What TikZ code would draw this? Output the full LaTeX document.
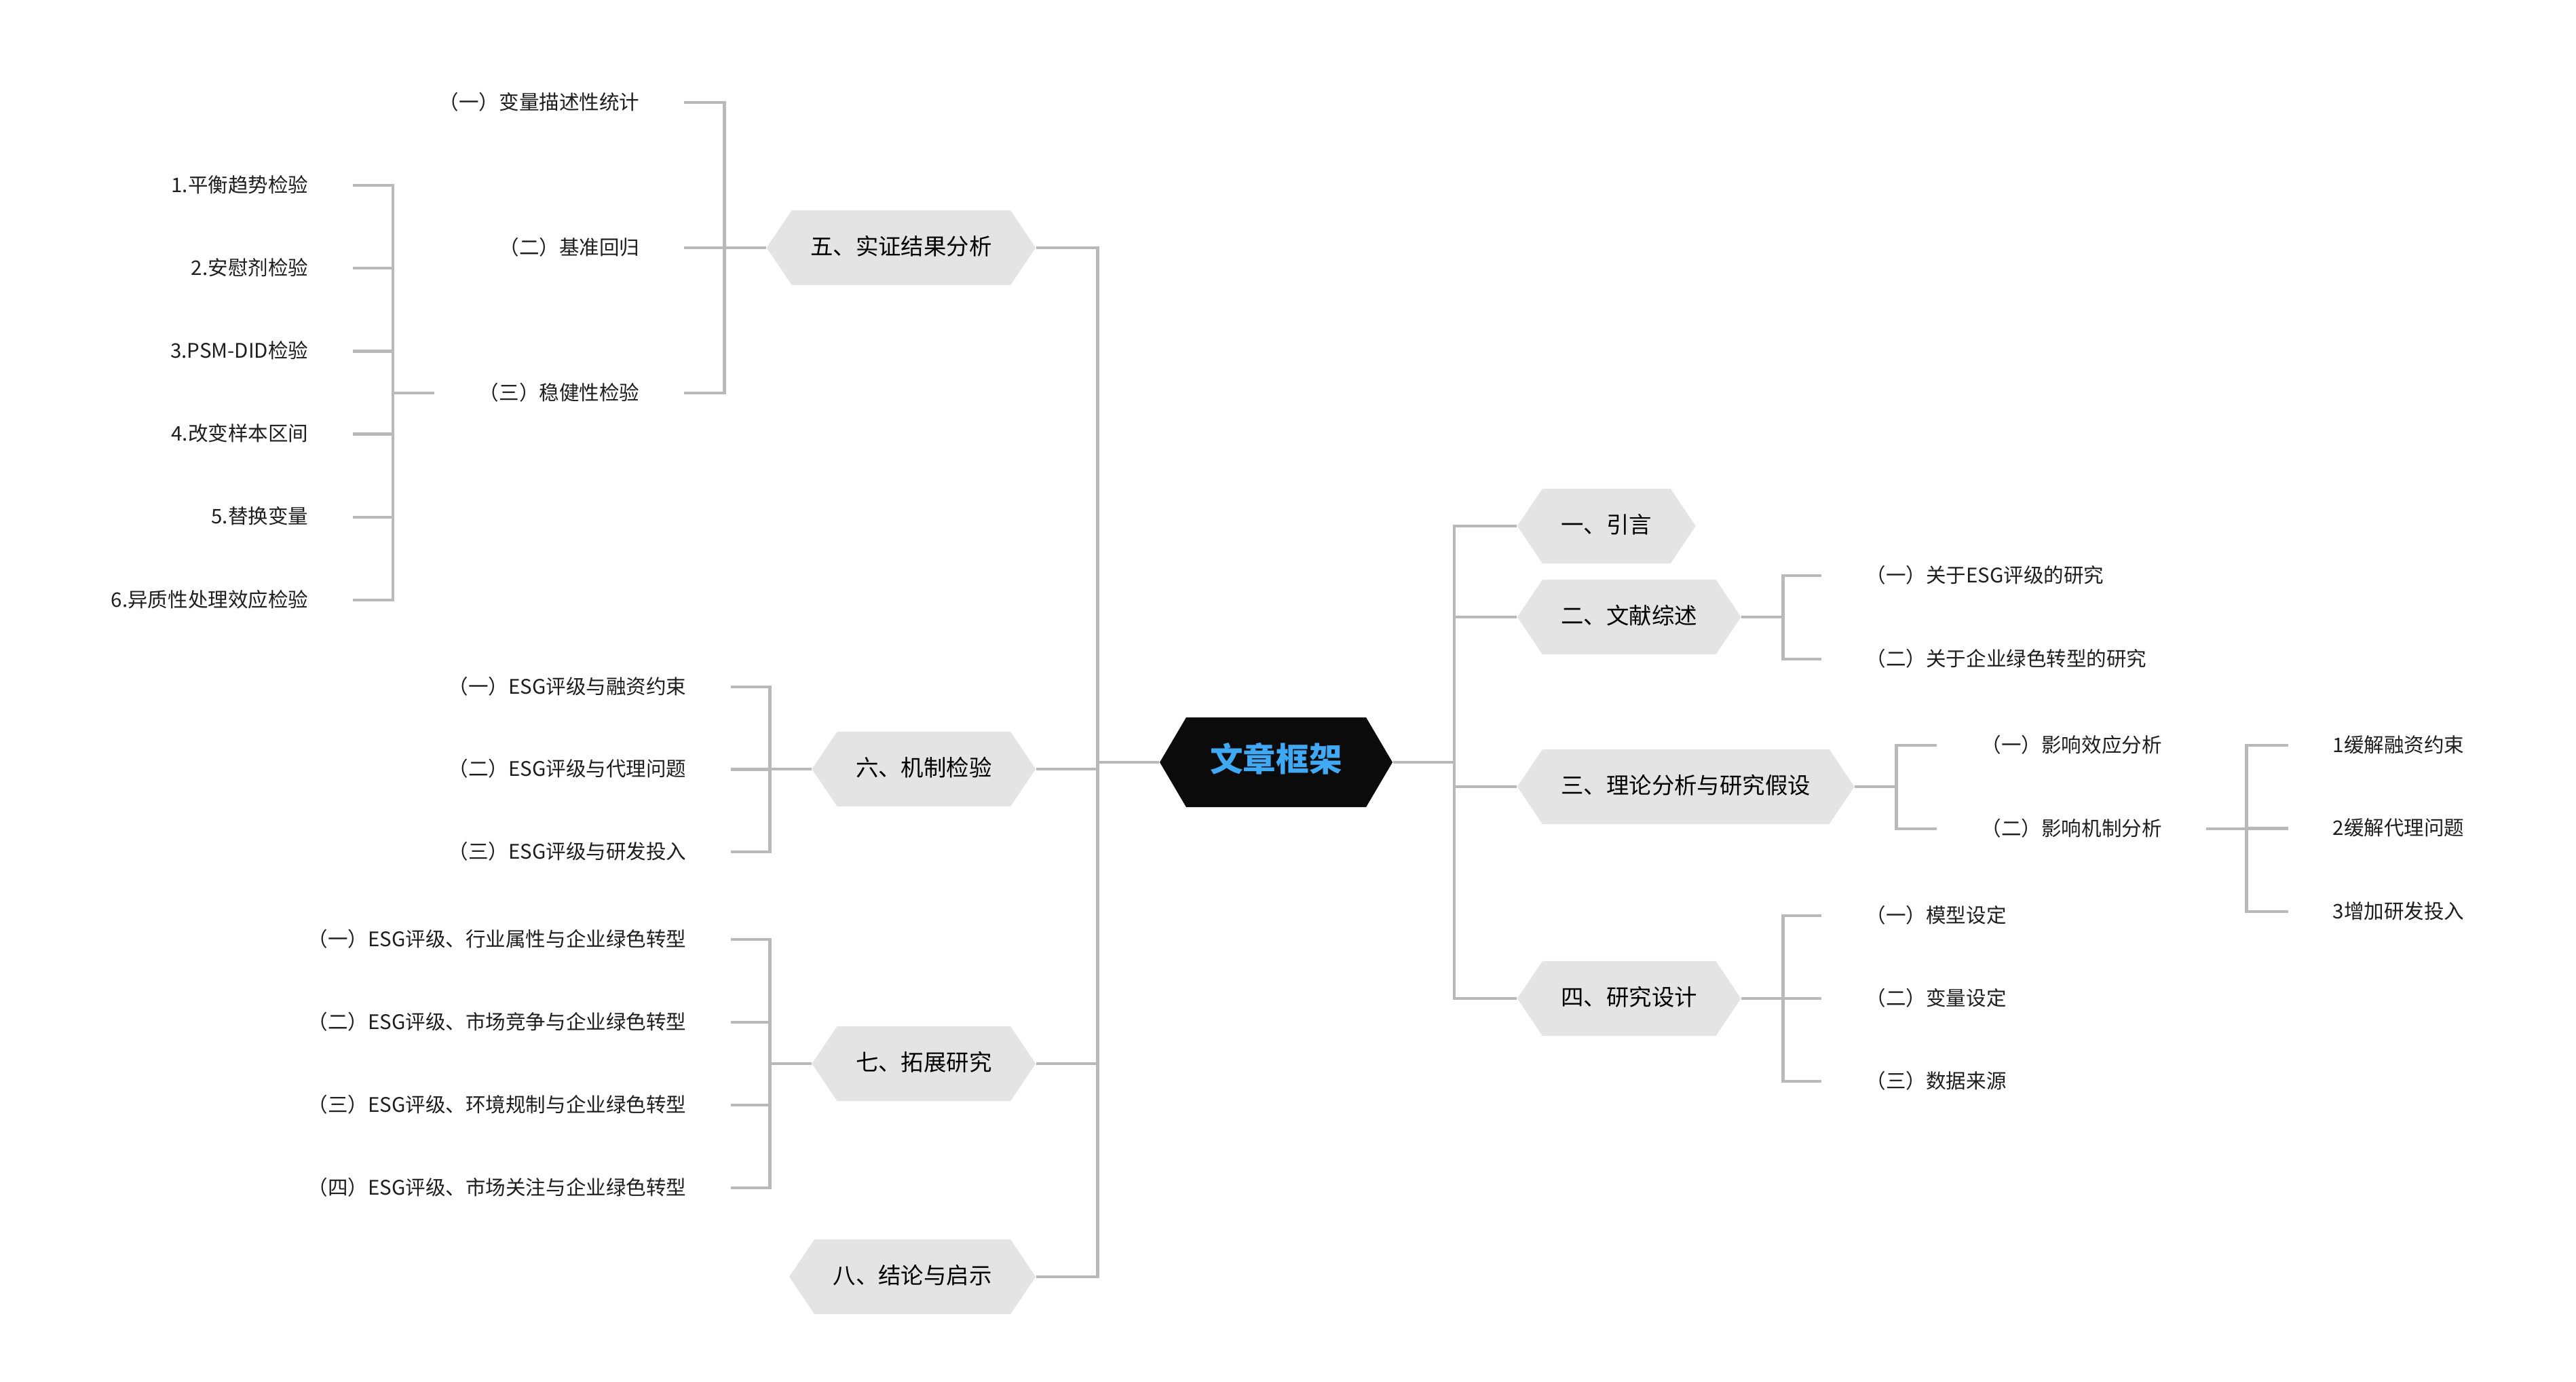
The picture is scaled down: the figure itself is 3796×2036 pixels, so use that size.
\documentclass[tikz,border=0pt]{standalone}
\usepackage{fontspec}
\setmainfont{Noto Sans CJK SC}
\usepackage{tikz}
\usetikzlibrary{shapes.symbols}
\definecolor{hexgray}{HTML}{E4E4E4}
\definecolor{lngray}{HTML}{B9B9B9}
\definecolor{rootblk}{HTML}{0B0B0B}
\definecolor{rootblue}{HTML}{3FA9F5}
\definecolor{leaftxt}{HTML}{1E1E1E}

\begin{document}
\begin{tikzpicture}[x=0.01cm,y=-0.01cm,
  hex/.style={signal,signal to=east and west,signal pointer angle=112,fill=hexgray,minimum height=1.1cm,inner xsep=0.275cm,inner ysep=0pt,font=\fontsize{9.5}{10}\selectfont,text=black,text height=0.8em,text depth=0.21em},
  root/.style={hex,signal pointer angle=119,fill=rootblk,minimum height=1.32cm,inner xsep=0.355cm,font=\fontsize{13.8}{15}\selectfont\bfseries,text=rootblue,text height=0.86em,text depth=0.12em},
  leaf/.style={inner xsep=0.65cm,inner ysep=0pt,font=\fontsize{8.4}{9}\selectfont,text=leaftxt,text height=0.8em,text depth=0.23em},
  conn/.style={draw=lngray,line width=1.3pt}]
  \fill[white] (0,0) rectangle (3796,2036); \useasboundingbox (0,0) rectangle (3796,2036);
  \node[root] (c) at (1880.5,1123) {文章框架};
  \node[hex,anchor=east] (h5) at (1527,365) {五、实证结果分析}; \node[hex,anchor=east] (h6) at (1527,1133) {六、机制检验};
  \node[hex,anchor=east] (h7) at (1527,1567) {七、拓展研究}; \node[hex,anchor=east] (h8) at (1527,1881) {八、结论与启示};
  \node[hex,anchor=west] (h1) at (2235,775) {一、引言}; \node[hex,anchor=west] (h2) at (2235,909) {二、文献综述};
  \node[hex,anchor=west] (h3) at (2235,1159) {三、理论分析与研究假设}; \node[hex,anchor=west] (h4) at (2235,1471) {四、研究设计};
  \foreach \h in {h5,h6,h7,h8} \draw[conn] (c.west) -- ++(-91,0) |- (\h.east);
  \foreach \h in {h1,h2,h3,h4} \draw[conn] (c.east) -- ++(90,0) |- (\h.west);

  \node[leaf,anchor=east] (a1) at (1008,151) {（一）变量描述性统计}; \node[leaf,anchor=east] (a2) at (1008,365) {（二）基准回归};
  \node[leaf,anchor=east] (a3) at (1008,579) {（三）稳健性检验};
  \foreach \n in {a1,a2,a3} \draw[conn] (h5.west) -- ++(-61,0) |- (\n.east);
  \foreach \t [count=\i] in {1.平衡趋势检验,2.安慰剂检验,3.PSM-DID检验,4.改变样本区间,5.替换变量,6.异质性处理效应检验}
    {\node[leaf,anchor=east] (r\i) at (520,{273+122.2*(\i-1)}) {\t}; \draw[conn] (a3.west) -- ++(-61,0) |- (r\i.east);}
  \foreach \t [count=\i] in {（一）ESG评级与融资约束,（二）ESG评级与代理问题,（三）ESG评级与研发投入}
    {\node[leaf,anchor=east] (m\i) at (1077,{1012+121.5*(\i-1)}) {\t}; \draw[conn] (h6.west) -- ++(-61,0) |- (m\i.east);}
  \foreach \t [count=\i] in {（一）ESG评级、行业属性与企业绿色转型,（二）ESG评级、市场竞争与企业绿色转型,（三）ESG评级、环境规制与企业绿色转型,（四）ESG评级、市场关注与企业绿色转型}
    {\node[leaf,anchor=east] (e\i) at (1077,{1384+122*(\i-1)}) {\t}; \draw[conn] (h7.west) -- ++(-61,0) |- (e\i.east);}

  \foreach \t [count=\i] in {（一）关于ESG评级的研究,（二）关于企业绿色转型的研究}
    {\node[leaf,anchor=west] (w\i) at (2684,{848+123*(\i-1)}) {\t}; \draw[conn] (h2.east) -- ++(61,0) |- (w\i.west);}
  \node[leaf,anchor=west] (t1) at (2854,1098) {（一）影响效应分析}; \node[leaf,anchor=west] (t2) at (2854,1221) {（二）影响机制分析};
  \foreach \n in {t1,t2} \draw[conn] (h3.east) -- ++(61,0) |- (\n.west);
  \foreach \t [count=\i] in {1缓解融资约束,2缓解代理问题,3增加研发投入}
    {\node[leaf,anchor=west] (k\i) at (3372,{1098+122.5*(\i-1)}) {\t}; \draw[conn] (t2.east) -- ++(59,0) |- (k\i.west);}
  \foreach \t [count=\i] in {（一）模型设定,（二）变量设定,（三）数据来源}
    {\node[leaf,anchor=west] (d\i) at (2684,{1349+122*(\i-1)}) {\t}; \draw[conn] (h4.east) -- ++(61,0) |- (d\i.west);}
\end{tikzpicture}
\end{document}
